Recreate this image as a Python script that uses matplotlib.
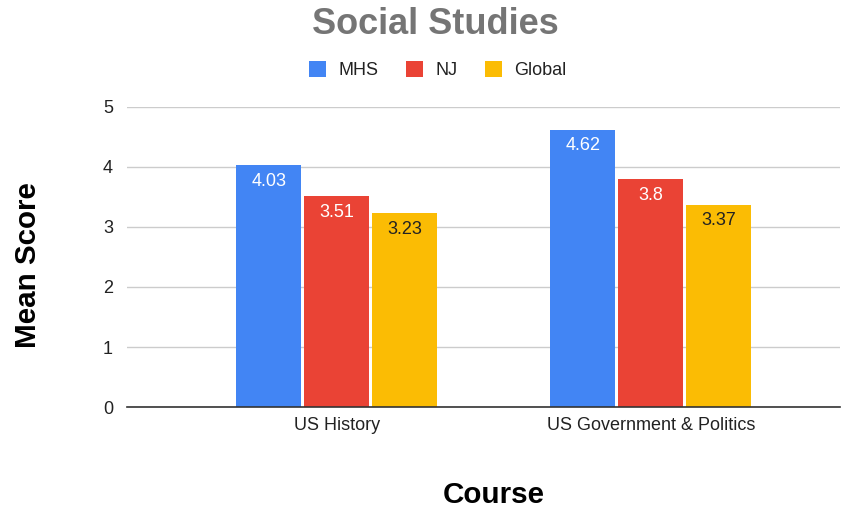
import matplotlib.pyplot as plt
import numpy as np
from matplotlib.patches import Patch

plt.rcParams["font.family"] = ["Liberation Sans", "DejaVu Sans"]

courses = ["US History", "US Government & Politics"]
series = ["MHS", "NJ", "Global"]
mhs = [4.03, 4.62]
nj = [3.51, 3.8]
global_scores = [3.23, 3.37]
colors = ["#4285F4", "#EA4335", "#FBBC04"]
label_colors = ["white", "white", "#222222"]

fig = plt.figure(figsize=(8.55, 5.08), dpi=100)
ax = fig.add_axes([0.1485, 0.1988, 0.8335, 0.5906])

x = np.arange(len(courses))
step = 0.2166
width = 0.207
for i, (vals, c, lc) in enumerate(zip([mhs, nj, global_scores], colors, label_colors)):
    pos = x + (i - 1) * step
    ax.bar(pos, vals, width=width, color=c, zorder=3)
    for p, v in zip(pos, vals):
        ax.annotate("{:g}".format(v), (p, v), xytext=(0, -5.5), textcoords="offset points",
                    ha="center", va="top", color=lc, fontsize=13, zorder=4)

ax.set_xlim(-0.669, 1.602)
ax.set_ylim(0, 5)
ax.set_yticks([0, 1, 2, 3, 4, 5])
ax.set_xticks(x)
ax.set_xticklabels(courses)
ax.tick_params(axis="both", length=0, labelsize=13, colors="#222222")
ax.tick_params(axis="y", pad=10)
ax.tick_params(axis="x", pad=7)
ax.grid(axis="y", color="#cccccc", linewidth=1, zorder=0)
for s in ["top", "right", "left"]:
    ax.spines[s].set_visible(False)
ax.spines["bottom"].set_color("#333333")
ax.spines["bottom"].set_linewidth(1.2)
ax.spines["bottom"].set_zorder(5)

fig.text(0.509, 0.951, "Social Studies", ha="center", va="center",
         fontsize=26, fontweight="bold", color="#757575")
fig.text(0.578, 0.025, "Course", ha="center", va="center",
         fontsize=21.3, fontweight="bold", color="black")
fig.text(0.033, 0.478, "Mean Score", ha="center", va="center", rotation=90,
         fontsize=21.3, fontweight="bold", color="black")

handles = [Patch(facecolor=c, edgecolor="none") for c in colors]
fig.legend(handles, series, loc="center", bbox_to_anchor=(0.512, 0.862), ncol=3,
           frameon=False, fontsize=13, handlelength=0.95, handleheight=0.95,
           columnspacing=1.5, handletextpad=0.7, labelcolor="#222222")

fig.savefig("out.png", dpi=100)
